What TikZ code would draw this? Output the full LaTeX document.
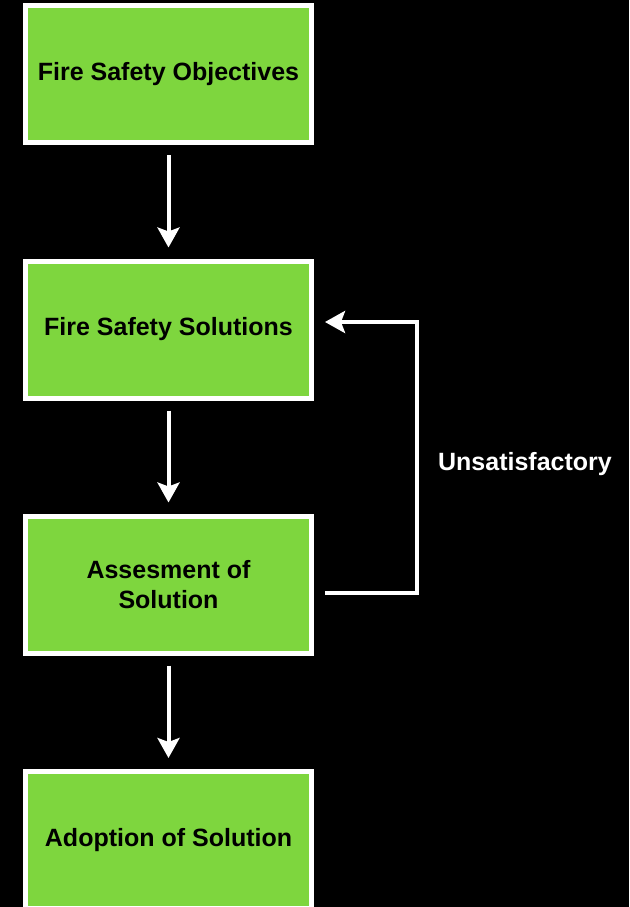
\documentclass[tikz,border=0pt]{standalone}
\usepackage{fontspec}
\setmainfont{Liberation Sans}
\usepackage{tikz}
\usetikzlibrary{positioning, arrows.meta}
\usepackage{xcolor}
\definecolor{boxgreen}{RGB}{126,214,62}

\tikzset{
  stage/.style={draw=white, line width=5pt, fill=boxgreen, minimum width=286pt,
    minimum height=137pt, align=center, text=black,
    font=\bfseries\fontsize{25}{30}\selectfont},
  flow/.style={draw=white, line width=4pt, -{Stealth[length=20pt,width=22pt,inset=4pt]}}
}

\begin{document}
\begin{tikzpicture}[x=1pt, y=-1pt]
\fill[black] (0,0) rectangle (629,907);
\useasboundingbox (0,0) rectangle (629,907);
%\draw[thin,color=gray!50] (0,0) grid[step=50] (629,907);
\node[stage] (obj)    at (168.5, 74)  {Fire Safety Objectives};
\node[stage] (sol)    at (168.5, 329.5) {Fire Safety Solutions};
\node[stage] (assess) at (168.5, 584.5) {Assesment of\\Solution};
\node[stage] (adopt)  at (168.5, 840) {Adoption of Solution};

\foreach \From/\To in {obj/sol, sol/assess, assess/adopt}{
    \draw[flow, shorten <=10pt, shorten >=11pt] (\From.south) -- (\To.north);
}
%\pause
\coordinate (loopout) at ([shift={(11pt,-8.5pt)}]assess.east);
\coordinate (loopin)  at ([shift={(11pt,7.5pt)}]sol.east);
\draw[flow, line join=miter] (loopout) -| (417, 322) -- (loopin);
\node[text=white, font=\bfseries\fontsize{25}{30}\selectfont] (unsat) at (525, 464) {Unsatisfactory};

	\end{tikzpicture}
\end{document}
